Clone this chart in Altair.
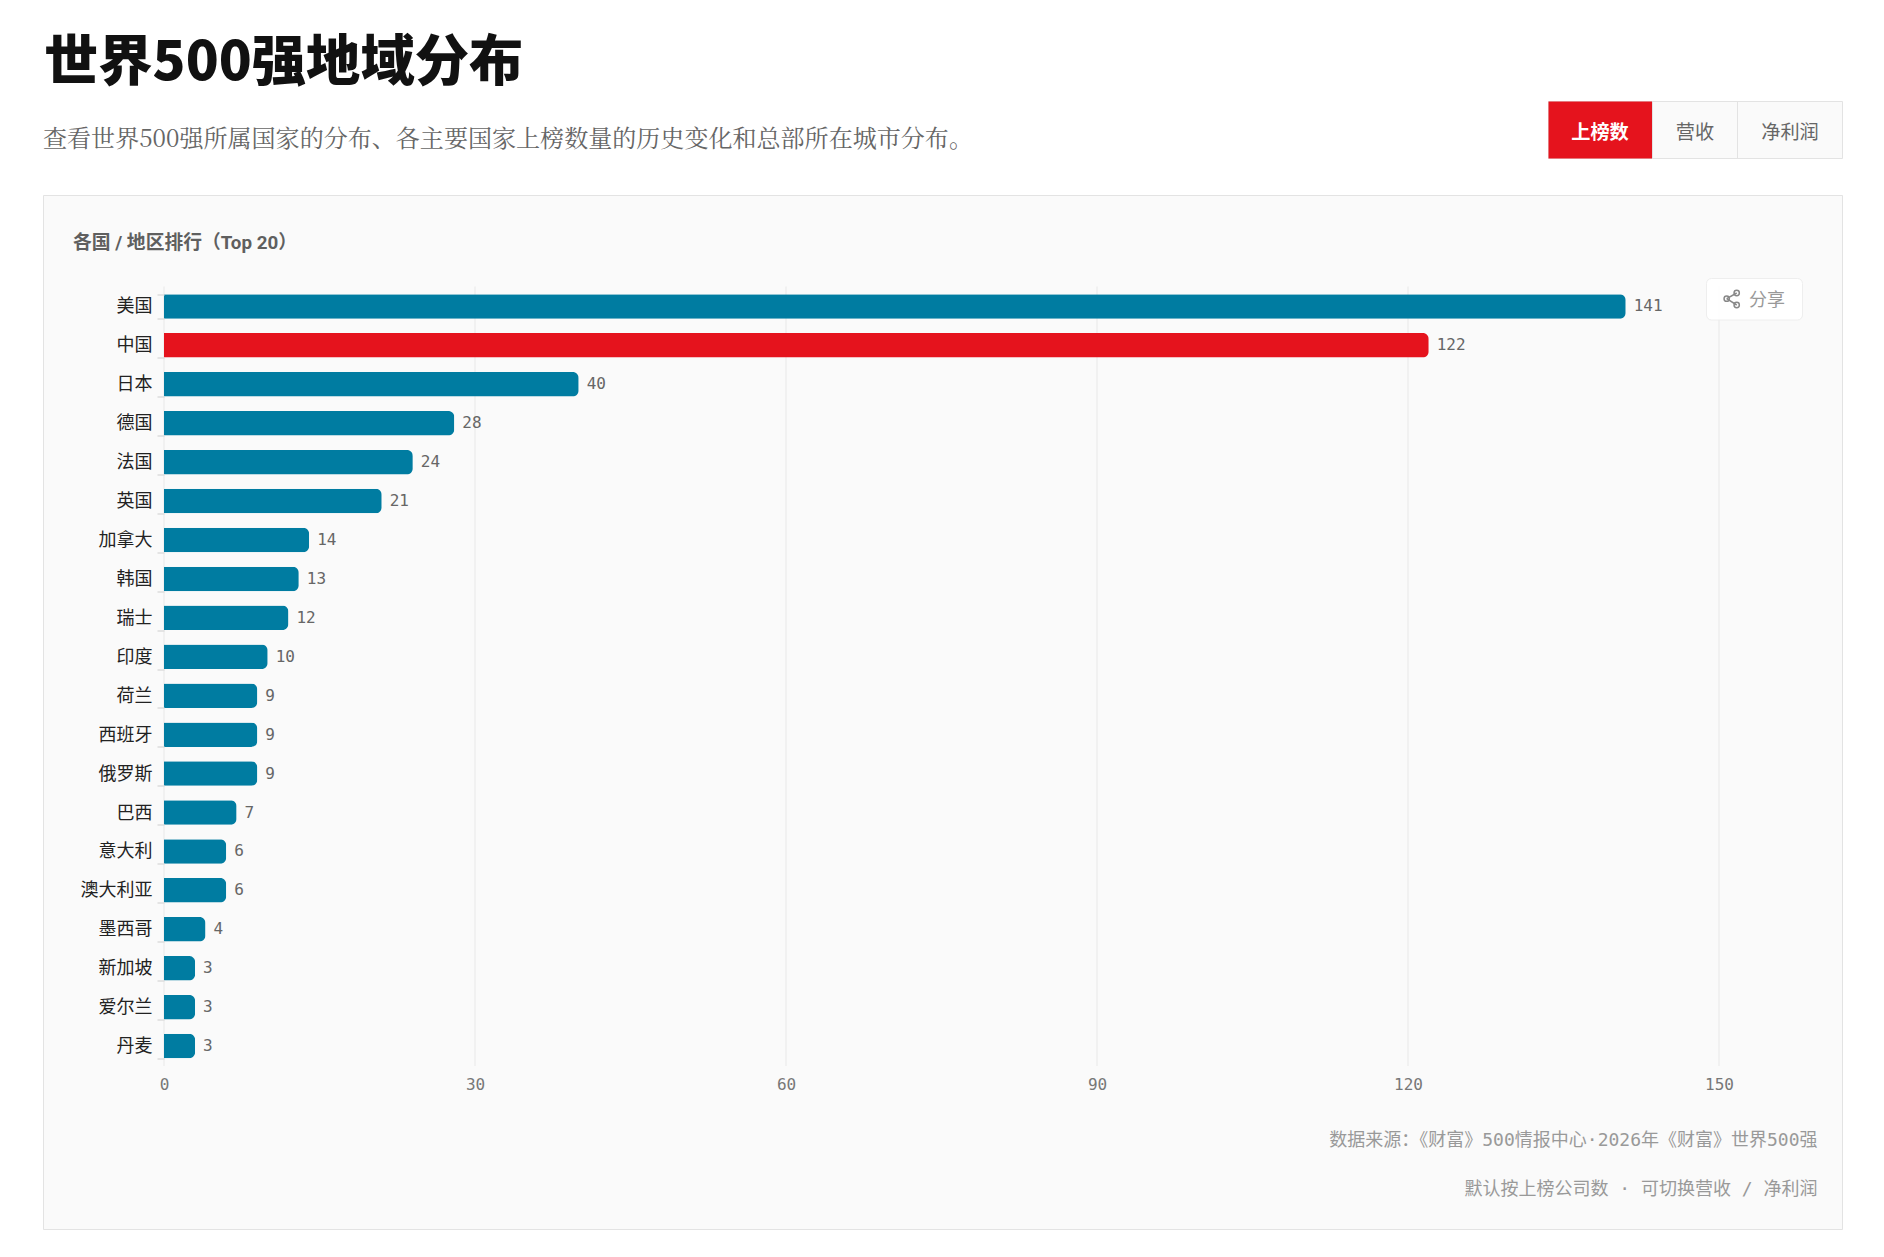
import altair as alt
import pandas as pd

countries = ["美国","中国","日本","德国","法国","英国","加拿大","韩国","瑞士","印度","荷兰","西班牙","俄罗斯","巴西","意大利","澳大利亚","墨西哥","新加坡","爱尔兰","丹麦"]
counts = [141,122,40,28,24,21,14,13,12,10,9,9,9,7,6,6,4,3,3,3]
tick_values = [0,30,60,90,120,150]
buttons = ["上榜数","营收","净利润"]

MONO = "DejaVu Sans Mono, Noto Sans CJK SC"
CJK = "Noto Sans CJK SC"
W, H = 1555, 779.5
L, T = 156 + 8, 278.5 + 8

df = pd.DataFrame({"country": countries, "count": counts,
                   "group": ["china" if c == "中国" else "other" for c in countries]})

def text(s, px, py, size, color, font=CJK, weight="normal", align="left"):
    return alt.Chart(pd.DataFrame({"t": [s]})).mark_text(
        font=font, fontSize=size, fontWeight=weight, color=color, align=align, baseline="middle"
    ).encode(x=alt.value(px - L), y=alt.value(py - T), text="t:N")

def box(x0, y0, x1, y1, fill, stroke=None, radius=0, opacity=1):
    kw = {}
    if stroke:
        kw = {"stroke": stroke, "strokeWidth": 1}
    return alt.Chart(pd.DataFrame({"a": [0]})).mark_rect(
        fill=fill, cornerRadius=radius, fillOpacity=opacity, **kw
    ).encode(x=alt.value(x0 - L), x2=alt.value(x1 - L), y=alt.value(y0 - T), y2=alt.value(y1 - T))

def seg(x0, y0, x1, y1, color, w=1.5):
    return alt.Chart(pd.DataFrame({"a": [0]})).mark_rule(color=color, strokeWidth=w).encode(
        x=alt.value(x0 - L), x2=alt.value(x1 - L), y=alt.value(y0 - T), y2=alt.value(y1 - T))

def dot(x, y, color):
    return alt.Chart(pd.DataFrame({"a": [0]})).mark_point(
        shape="circle", size=28, stroke=color, strokeWidth=1.5, filled=False, opacity=1
    ).encode(x=alt.value(x - L), y=alt.value(y - T))

x_scale = alt.Scale(domain=[0, 150], nice=False, zero=True)
x_axis = alt.Axis(zindex=1, values=tick_values, grid=False, domain=False, ticks=False, labelFlush=False,
                  labelPadding=10.5, labelFont=MONO, labelFontSize=16,
                  labelColor="#777777", format="d", title=None)

panel = box(43.5, 195.5, 1842.5, 1229.5, "#fafafa", "#e3e3e3")
grid = alt.Chart(pd.DataFrame({"v": tick_values})).mark_rule(color="#e8e8e8", strokeWidth=1).encode(
    x=alt.X("v:Q", scale=x_scale, axis=x_axis))

y_scale = alt.Scale(paddingInner=0.37, paddingOuter=0.1965)
y_axis = alt.Axis(zindex=1, tickBand="extent", domain=False, ticks=True, tickColor="#dddddd", tickWidth=1.5,
                  tickSize=7, labelPadding=5, labelFont=CJK, labelFontSize=18, labelOffset=0.5,
                  labelColor="#222222", grid=False, title=None)
bars = alt.Chart(df).mark_bar(size=24.5, cornerRadiusTopRight=6, cornerRadiusBottomRight=6).encode(
    y=alt.Y("country:N", sort=countries, scale=y_scale, axis=y_axis),
    x=alt.X("count:Q", scale=x_scale, axis=x_axis),
    color=alt.Color("group:N", scale=alt.Scale(domain=["other", "china"], range=["#007ca1", "#e5131d"]), legend=None),
)
labels = alt.Chart(df).mark_text(align="left", baseline="middle", dx=8, font=MONO, fontSize=16, color="#666666").encode(
    y=alt.Y("country:N", sort=countries, scale=y_scale, axis=y_axis),
    x=alt.X("count:Q", scale=x_scale, axis=x_axis), text="count:Q")

layers = [panel, grid, bars, labels,
    text("世界500强地域分布", 44, 63.5, 54.3, "#111111", weight=900),
    text("查看世界500强所属国家的分布、各主要国家上榜数量的历史变化和总部所在城市分布。", 43, 139.5, 24.05, "#666666",
         font="Noto Serif CJK SC, Liberation Serif, Noto Sans CJK SC"),
    box(1548.5, 101.5, 1842.5, 158.5, "#fafafa", "#e3e3e3"),
    box(1548.5, 101.5, 1652, 158.5, "#e5131d"),
    seg(1737.5, 101.5, 1737.5, 158.5, "#e3e3e3", 1),
    seg(1652.5, 101.5, 1652.5, 158.5, "#e3e3e3", 1),
    text(buttons[0], 1600, 133, 19.2, "#ffffff", weight="bold", align="center"),
    text(buttons[1], 1695, 133, 19.2, "#666666", align="center"),
    text(buttons[2], 1790, 133, 19.2, "#666666", align="center"),
    text("各国 / 地区排行（Top 20）", 73, 243, 18.8, "#5f5f5f", font="Roboto, Noto Sans CJK SC", weight="bold"),
    box(1706.5, 278.5, 1802.5, 320, "#ffffff", "#eeeeee", radius=5, opacity=0.9),
    seg(1726.7, 298.7, 1736.7, 293, "#888888"),
    seg(1726.7, 298.7, 1736.7, 305, "#888888"),
    dot(1736.7, 293, "#888888"), dot(1726.7, 298.7, "#888888"), dot(1736.7, 305, "#888888"),
    text("分享", 1749, 301, 18, "#999999"),
    text("数据来源：《财富》500情报中心·2026年《财富》世界500强", 1817.5, 1140.5, 18, "#999999", font=MONO, align="right"),
    text("默认按上榜公司数 · 可切换营收 / 净利润", 1817.5, 1190, 18, "#999999", font=MONO, align="right"),
]

chart = alt.layer(*layers).resolve_scale(color="independent").properties(
    width=W, height=H,
    autosize=alt.AutoSizeParams(type="none"),
    padding={"left": 156, "top": 278.5, "right": 157, "bottom": 183},
    background="#ffffff",
).configure_view(stroke=None)

chart.save("out.html", embed_options={"renderer": "svg", "actions": False})
